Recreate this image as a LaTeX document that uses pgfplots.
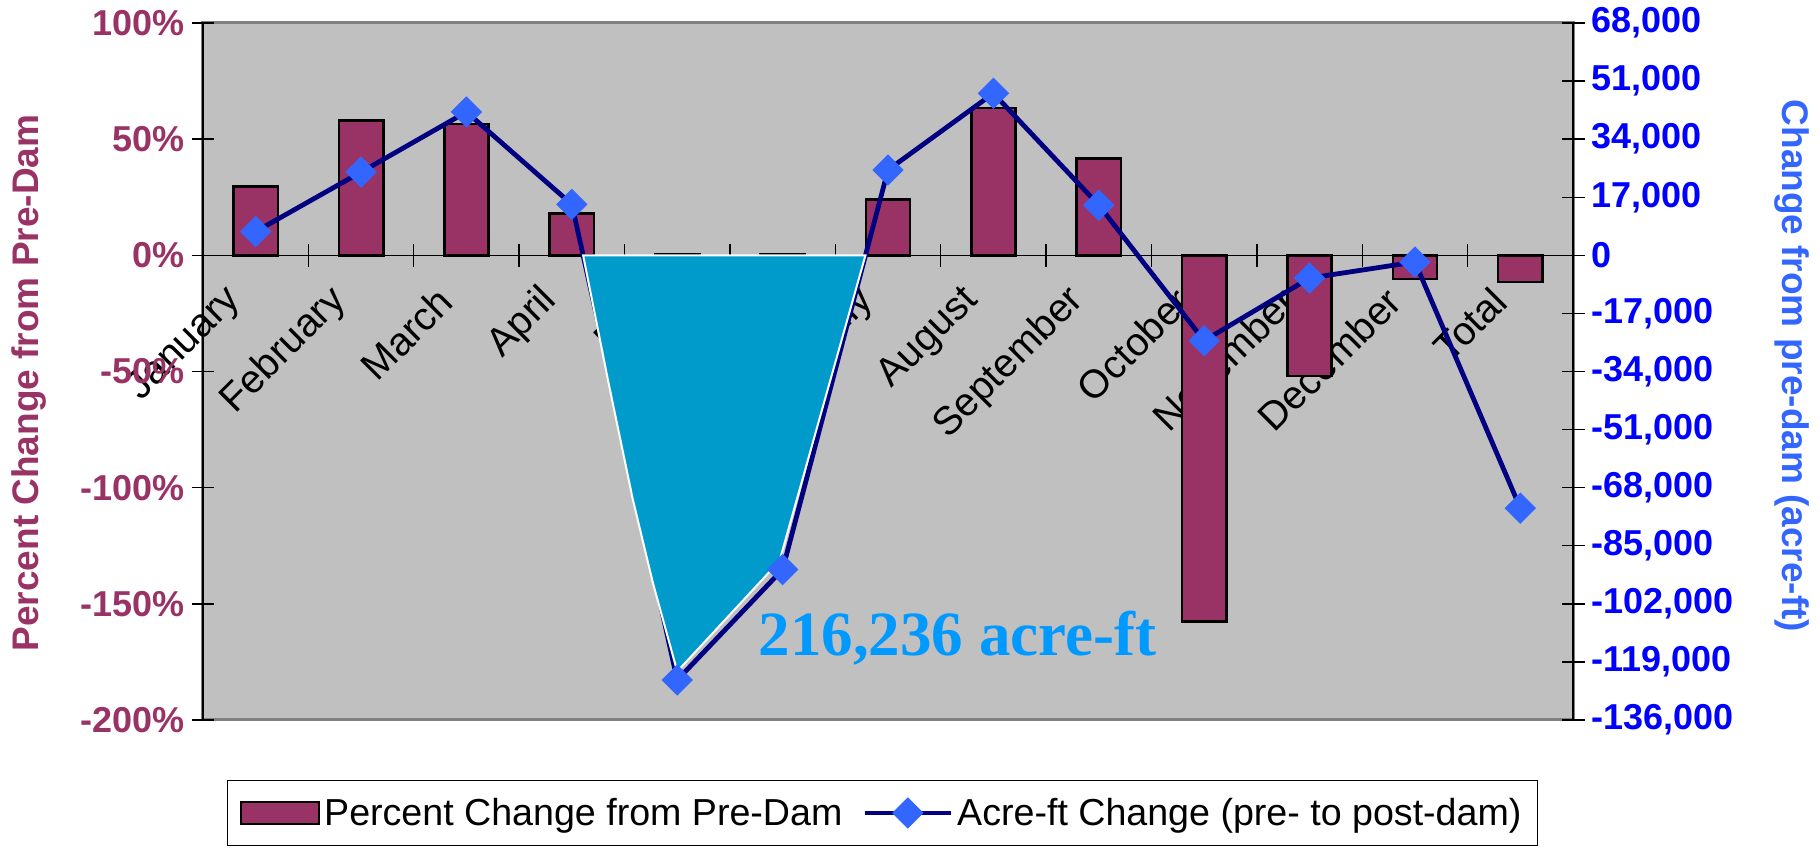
\documentclass[border=0pt]{standalone}
\usepackage{fontspec}
\setmainfont{Liberation Sans}
\newfontfamily\annotfont{Liberation Serif}
\usepackage{pgfplots}
\usepackage{pgfplotstable}
\pgfplotsset{compat=1.18}

\definecolor{barfill}{HTML}{993366}
\definecolor{linenavy}{HTML}{000080}
\definecolor{markblue}{HTML}{3366FF}
\definecolor{plotgray}{HTML}{C0C0C0}
\definecolor{deficit}{HTML}{009BCB}
\definecolor{annot}{HTML}{0099FF}
\definecolor{rightlabel}{HTML}{3366FF}
\definecolor{ticksblue}{HTML}{0000FF}

% legend images: a framed swatch for the bars, a line with a centred diamond
\pgfplotsset{
  swatch legend/.style={legend image code/.code={
    \draw[fill=barfill, draw=black, line width=1.3pt] (0pt,-5.5pt) rectangle (39pt,5.5pt);}},
  diamond line legend/.style={legend image code/.code={
    \draw[mark repeat=2, mark phase=2, ##1]
      plot coordinates {(0pt,0pt) (21.5pt,0pt) (43pt,0pt)};}},
}

% idx: month (0 = January ... 11 = December, 12 = Total)
% pct: percent change from pre-dam, acreft: change in acre-ft
\pgfplotstableread{
idx pct acreft
0 29.5 6960
1 58 24360
2 56.6 41960
3 18 14910
4 0.3 -124300
5 0.3 -91936
6 24 24980
7 63.4 47420
8 41.8 14700
9 -157.5 -24980
10 -52 -6660
11 -10.2 -1960
12 -11.5 -74000
}\datatable

\begin{document}
\begin{tikzpicture}
% percent change (left axis)
\begin{axis}[
  name=main,
  scale only axis, width=685pt, height=348.5pt,
  xmin=-0.5, xmax=12.5, ymin=-200, ymax=100,
  axis x line=middle, axis y line=left,
  hide obscured x ticks=false, hide obscured y ticks=false,
  axis line style={-, black, line width=0.7pt},
  every inner x axis line/.append style={-},
  every outer y axis line/.append style={-},
  axis background/.style={fill=plotgray, draw=gray, line width=1.5pt},
  xtick={0,...,12},
  xticklabels={January,February,March,April,May,June,July,August,September,October,November,December,Total},
  major x tick style={draw=none},
  minor x tick num=1,
  ytick={-200,-150,-100,-50,0,50,100},
  yticklabel={\pgfmathprintnumber{\tick}\%},
  /pgf/number format/assume math mode=true,
  tick align=center,
  major tick length=11.5pt, minor tick length=11.5pt,
  tick style={black, line width=0.7pt},
  yticklabel style={font=\bfseries\fontsize{18}{21}\selectfont, text=barfill},
  xticklabel style={font=\fontsize{19.8}{24}\selectfont, xshift=-8pt, yshift=-11.5pt, rotate=45, anchor=east},
  every axis y label/.style={at={(axis description cs:-0.127,0.4835)}, rotate=90, anchor=center,
    font=\bfseries\fontsize{18.5}{22}\selectfont, text=barfill},
  ylabel={Percent Change from Pre-Dam},
]
\addplot[ybar, bar width=0.42, fill=barfill, draw=black, line width=1.3pt]
  table[x=idx, y=pct]{\datatable};
\end{axis}

% acre-ft change (right axis)
\begin{axis}[
  scale only axis, width=685pt, height=348.5pt,
  xmin=-0.5, xmax=12.5, ymin=-136000, ymax=68000,
  axis x line=none, axis y line*=right,
  axis line style={-, black, line width=0.7pt},
  ytick={-136000,-119000,-102000,-85000,-68000,-51000,-34000,-17000,0,17000,34000,51000,68000},
  scaled y ticks=false,
  /pgf/number format/.cd, fixed, 1000 sep={,}, assume math mode=true, /pgfplots/.cd,
  tick align=center,
  major tick length=11.5pt,
  tick style={black, line width=0.7pt},
  yticklabel style={font=\bfseries\fontsize{18}{21}\selectfont, text=ticksblue},
  every axis y label/.style={at={(axis description cs:1.160,0.508)}, rotate=-90, anchor=center,
    font=\bfseries\fontsize{18.5}{22}\selectfont, text=rightlabel},
  ylabel={Change from pre-dam (acre-ft)},
  legend columns=2,
  legend style={at={(0.496,-0.086)}, anchor=north, draw=black, line width=0.7pt, fill=white,
    font=\fontsize{18.8}{22}\selectfont, inner xsep=6pt, inner ysep=6.6pt,
    /tikz/every even column/.append style={column sep=8pt}},
]
\addlegendimage{swatch legend}
\addlegendentry{Percent Change from Pre-Dam}
\addplot[linenavy, line width=2.4pt, mark=square*, mark size=5.3pt,
  mark options={solid, rotate=45, fill=markblue, draw=markblue, line width=0.5pt},
  diamond line legend]
  table[x=idx, y=acreft]{\datatable};
\addlegendentry{Acre-ft Change (pre- to post-dam)}
% May--June deficit below the pre-dam flow
\addplot[fill=deficit, draw=white, line width=1pt, forget plot]
  coordinates {(3.107,0) (3.347,-37150) (3.578,-71370) (3.769,-95860) (4.0,-121800)
               (4.97,-89500) (5.786,0)} -- cycle;
\node[font=\annotfont\bfseries\fontsize{31.5}{36}\selectfont, text=annot]
  at (axis cs:6.66,-112200) {216,236 acre-ft};
\end{axis}
\path ([shift={(-101.5pt,-65pt)}]main.south west) rectangle ([shift={(123.5pt,11.5pt)}]main.north east);
\end{tikzpicture}
\end{document}
